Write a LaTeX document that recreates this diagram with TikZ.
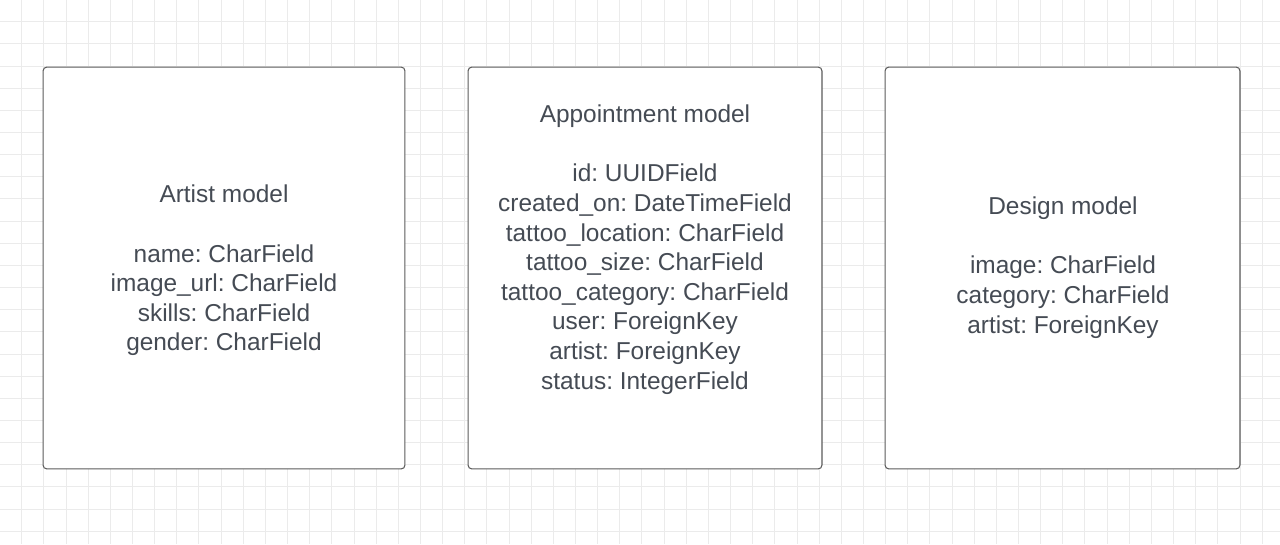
\documentclass[tikz,border=0pt]{standalone}
\usepackage{fontspec}
\setmainfont{Liberation Sans}
\definecolor{gridgray}{HTML}{EBEBEB}
\definecolor{boxline}{HTML}{5C5C5C}
\definecolor{textgray}{HTML}{454B54}
\begin{document}
\begin{tikzpicture}[x=0.02cm,y=-0.02cm,
    modelbox/.style={draw=boxline,line width=0.6pt,fill=white,rounded corners=2.2pt,inner sep=0pt},
    fields/.style={text=textgray,align=center,inner sep=0pt,
      font=\fontsize{13.9}{16.85}\selectfont\frenchspacing}]
      \useasboundingbox (0,0) rectangle (1280,544);
      \fill[white] (0,0) rectangle (1280,544);
      % grid
      \foreach \i in {0,...,57}
        \draw[gridgray,line width=0.5pt] ({\i*22.15-0.45},0) -- ({\i*22.15-0.45},544);
      \foreach \j in {0,...,24}
        \draw[gridgray,line width=0.5pt] (0,{\j*22.15-0.45}) -- (1280,{\j*22.15-0.45});
      % boxes
      \draw
        (224,268) node[modelbox,minimum width=7.24cm,minimum height=8.04cm] (artist) {}
        (645,268) node[modelbox,minimum width=7.08cm,minimum height=8.04cm] (appointment) {}
        (1062.5,268) node[modelbox,minimum width=7.1cm,minimum height=8.04cm] (design) {};
      % fields
      \draw
        (224,270.5) node[fields] (artistfields) {Artist model\\[\baselineskip]
          name: CharField\\ image\_url: CharField\\ skills: CharField\\ gender: CharField}
        (645,249.5) node[fields] (appointmentfields) {Appointment model\\[\baselineskip]
          id: UUIDField\\ created\_on: DateTimeField\\ tattoo\_location: CharField\\
          tattoo\_size: CharField\\ tattoo\_category: CharField\\ user: ForeignKey\\
          artist: ForeignKey\\ status: IntegerField}
        (1063,267.5) node[fields] (designfields) {Design model\\[\baselineskip]
          image: CharField\\ category: CharField\\ artist: ForeignKey};
    \end{tikzpicture}
\end{document}
